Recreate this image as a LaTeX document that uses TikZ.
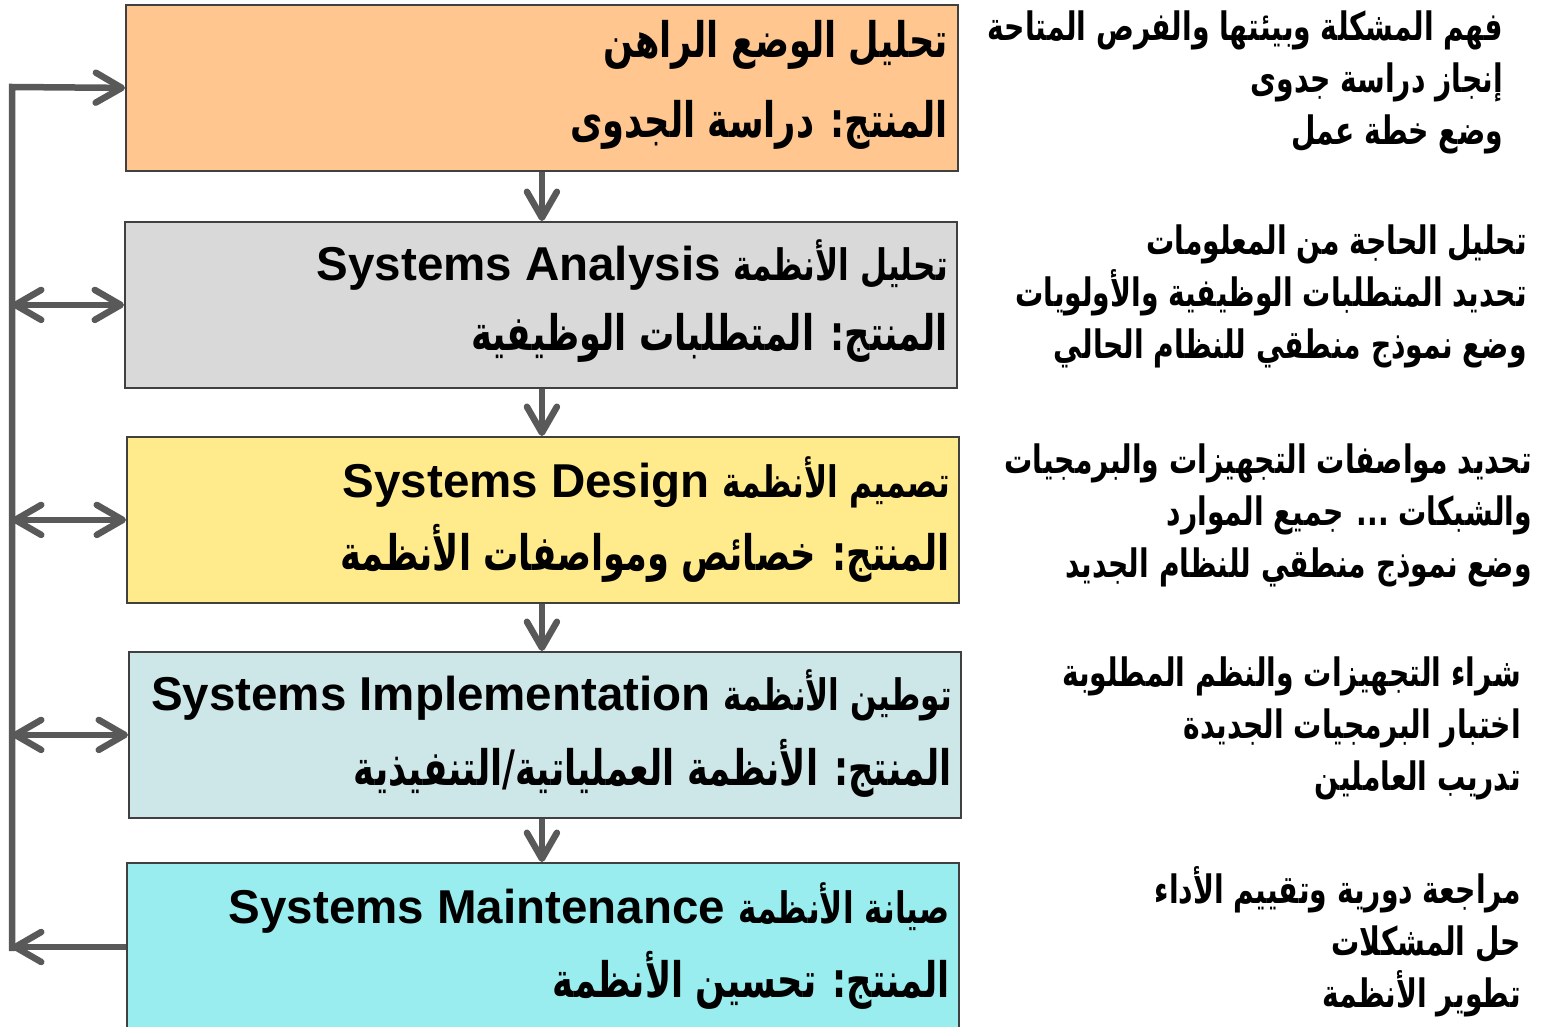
\documentclass[tikz,border=0pt]{standalone}
\usepackage{fontspec}
\setmainfont{Liberation Sans}
\newfontfamily\ar[Script=Arabic,Scale=1.03,FakeStretch=0.72]{DejaVu Sans}
\newcommand{\arsm}{\ar\fontsize{42}{52}\selectfont}
\TeXXeTstate=1
\usetikzlibrary{arrows.meta}
\definecolor{cOrange}{RGB}{255,199,143}
\definecolor{cGray}{RGB}{217,217,217}
\definecolor{cYellow}{RGB}{255,235,140}
\definecolor{cBlueGray}{RGB}{205,230,232}
\definecolor{cCyan}{RGB}{154,237,238}
\definecolor{cBorder}{RGB}{64,64,64}
\definecolor{cArrow}{RGB}{89,89,89}
\begin{document}
\begin{tikzpicture}[x=1pt,y=-1pt,
  stagebox/.style={draw=cBorder, line width=1.8pt, minimum width=832pt, minimum height=166pt, inner sep=0pt, anchor=north west},
  boxtext/.style={anchor=east, inner sep=0pt, font=\fontsize{47.5}{52}\selectfont\bfseries},
  sidetext/.style={anchor=east, inner sep=0pt, align=right, font=\fontsize{38}{52}\selectfont\bfseries},
  flow/.style={draw=cArrow, line width=6.5pt, -{Straight Barb[length=26pt,width=30pt,round]}},
  biflow/.style={draw=cArrow, line width=6.5pt, {Straight Barb[length=26pt,width=30pt,round]}-{Straight Barb[length=26pt,width=30pt,round]}}
]
\useasboundingbox (0,0) rectangle (1546,1027);

% stage boxes
\node[stagebox, fill=cOrange]   (b1) at (125,4)   {};
\node[stagebox, fill=cGray]     (b2) at (124,221) {};
\node[stagebox, fill=cYellow]   (b3) at (126,436) {};
\node[stagebox, fill=cBlueGray] (b4) at (128,651) {};
\node[stagebox, fill=cCyan, minimum height=172pt] (b5) at (126,862) {};

% box texts
\node[boxtext] (t1a) at (948,45)  {\ar\beginR تحليل الوضع الراهن\endR};
\node[boxtext] (t1b) at (948,125) {\ar\beginR المنتج: دراسة الجدوى\endR};
\node[boxtext] (t2a) at (948,265) {Systems Analysis {\arsm\beginR تحليل الأنظمة\endR}};
\node[boxtext] (t2b) at (948,338) {\ar\beginR المنتج: المتطلبات الوظيفية\endR};
\node[boxtext] (t3a) at (950,482) {Systems Design {\arsm\beginR تصميم الأنظمة\endR}};
\node[boxtext] (t3b) at (950,553) {\ar\beginR المنتج: خصائص ومواصفات الأنظمة\endR};
\node[boxtext] (t4a) at (952,695) {Systems Implementation {\arsm\beginR توطين الأنظمة\endR}};
\node[boxtext] (t4b) at (952,768) {\ar\beginR المنتج: الأنظمة العملياتية/التنفيذية\endR};
\node[boxtext] (t5a) at (950,908) {Systems Maintenance {\arsm\beginR صيانة الأنظمة\endR}};
\node[boxtext] (t5b) at (950,980) {\ar\beginR المنتج: تحسين الأنظمة\endR};

% side texts
\node[sidetext] (s1) at (1503,82) {\ar\beginR فهم المشكلة وبيئتها والفرص المتاحة\endR\\ \ar\beginR إنجاز دراسة جدوى\endR\\ \ar\beginR وضع خطة عمل\endR};
\node[sidetext] (s2) at (1527,296) {\ar\beginR تحليل الحاجة من المعلومات\endR\\ \ar\beginR تحديد المتطلبات الوظيفية والأولويات\endR\\ \ar\beginR وضع نموذج منطقي للنظام الحالي\endR};
\node[sidetext] (s3) at (1532,515) {\ar\beginR تحديد مواصفات التجهيزات والبرمجيات\endR\\ \ar\beginR والشبكات ... جميع الموارد\endR\\ \ar\beginR وضع نموذج منطقي للنظام الجديد\endR};
\node[sidetext] (s4) at (1521,728) {\ar\beginR شراء التجهيزات والنظم المطلوبة\endR\\ \ar\beginR اختبار البرمجيات الجديدة\endR\\ \ar\beginR تدريب العاملين\endR};
\node[sidetext] (s5) at (1521,942) {\ar\beginR مراجعة دورية وتقييم الأداء\endR\\ \ar\beginR حل المشكلات\endR\\ \ar\beginR تطوير الأنظمة\endR};

% downward flow
\draw[flow] (b1.south) -- (b2.north -| b1.south);
\draw[flow] (b2.south -| b1.south) -- (b3.north -| b1.south);
\draw[flow] (b3.south -| b1.south) -- (b4.north -| b1.south);
\draw[flow] (b4.south -| b1.south) -- (b5.north -| b1.south);

% feedback loop
\coordinate (fbtop) at (12,87);
\coordinate (fbbot) at (12,951);
\draw[flow] (fbbot) -- (fbtop) -- (b1.west);
\draw[flow] (b5.west |- 0,947) -- (fbbot |- 0,947);
\draw[biflow] (b2.west -| fbtop) -- (b2.west);
\draw[biflow] (b3.west -| fbtop) -- (b3.west);
\draw[biflow] (b4.west -| fbtop) -- (b4.west);
\end{tikzpicture}
\end{document}
